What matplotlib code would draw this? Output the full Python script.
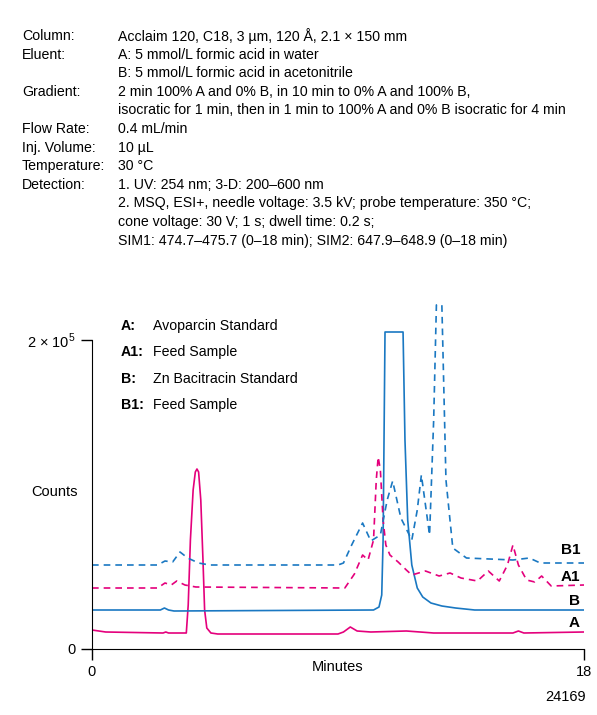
import matplotlib
matplotlib.use("Agg")
import matplotlib.pyplot as plt

plt.rcParams['font.family'] = ['Liberation Sans', 'DejaVu Sans']

# scale: counts per image pixel
K = 647.0
def c(py):
    return (649 - py) * K

# Trace data (time in min, signal in counts)
A_t = [0, 0.5, 2.6, 2.7, 2.8, 3.45, 3.52, 3.6, 3.7, 3.78, 3.84, 3.9, 3.98, 4.06, 4.12, 4.2, 4.35, 4.6, 9.0, 9.2, 9.45, 9.7, 10.2, 11.5, 12.5, 15.4, 15.6, 15.8, 18]
A_y = [c(p) for p in [630, 632, 633, 632, 633, 633, 605, 540, 490, 472, 469, 472, 500, 560, 610, 628, 633, 634, 634, 632, 627, 631, 632, 631, 633, 633, 631, 633, 632]]

B_t = [0, 2.5, 2.65, 2.8, 3.0, 10.3, 10.5, 10.6, 10.65, 10.72, 11.38, 11.45, 11.55, 11.7, 11.9, 12.1, 12.4, 12.8, 13.3, 14.0, 18]
B_y = [c(p) for p in [610, 610, 608, 610, 611, 610, 607, 595, 540, 332, 332, 440, 520, 565, 588, 597, 603, 606, 608, 610, 610]]

A1_t = [0, 2.4, 2.67, 2.9, 3.1, 3.4, 3.8, 9.25, 9.6, 9.9, 10.1, 10.3, 10.4, 10.47, 10.55, 10.65, 10.75, 10.9, 11.2, 11.5, 11.7, 12.2, 12.7, 13.1, 13.5, 14.1, 14.5, 14.9, 15.2, 15.4, 15.6, 15.9, 16.2, 16.45, 16.8, 18]
A1_y = [c(p) for p in [588, 588, 583, 585, 581, 585, 587, 588, 574, 555, 560, 540, 480, 457, 470, 520, 545, 555, 562, 570, 575, 571, 576, 573, 578, 581, 571, 581, 565, 545, 565, 580, 582, 576, 586, 585]]

B1_t = [0, 2.4, 2.67, 2.95, 3.22, 3.5, 3.9, 4.3, 9.0, 9.2, 9.5, 9.9, 10.2, 10.55, 10.8, 11.0, 11.3, 11.7, 11.9, 12.05, 12.35, 12.5, 12.6, 12.8, 12.95, 13.2, 13.7, 15.4, 16.0, 16.4, 18]
B1_y = [c(p) for p in [565, 565, 561, 562, 552, 558, 563, 565, 565, 563, 545, 523, 541, 535, 500, 481, 518, 540, 510, 475, 535, 420, 305, 305, 480, 548, 558, 560, 558, 563, 563]]

info_labels = ["Column:", "Eluent:", "", "Gradient:", "", "Flow Rate:", "Inj. Volume:", "Temperature:", "Detection:", "", "", ""]
info_values = ["Acclaim 120, C18, 3 µm, 120 Å, 2.1 × 150 mm",
               "A: 5 mmol/L formic acid in water",
               "B: 5 mmol/L formic acid in acetonitrile",
               "2 min 100% A and 0% B, in 10 min to 0% A and 100% B,",
               "isocratic for 1 min, then in 1 min to 100% A and 0% B isocratic for 4 min",
               "0.4 mL/min",
               "10 µL",
               "30 °C",
               "1. UV: 254 nm; 3-D: 200–600 nm",
               "2. MSQ, ESI+, needle voltage: 3.5 kV; probe temperature: 350 °C;",
               "cone voltage: 30 V; 1 s; dwell time: 0.2 s;",
               "SIM1: 474.7–475.7 (0–18 min); SIM2: 647.9–648.9 (0–18 min)"]
legend_keys = ["A:", "A1:", "B:", "B1:"]
legend_names = ["Avoparcin Standard", "Feed Sample", "Zn Bacitracin Standard", "Feed Sample"]

W, H = 597, 715
fig = plt.figure(figsize=(W/100, H/100), dpi=100)
def fx(px): return px / W
def fy(py): return 1 - py / H

ax = fig.add_axes([fx(92), fy(649), fx(584) - fx(92), (649 - 300) / H])
mag = '#e4007c'
blu = '#1a78c2'
ax.plot(A_t, A_y, color=mag, lw=1.2)
ax.plot(B_t, B_y, color=blu, lw=1.2)
ax.plot(A1_t, A1_y, color=mag, lw=1.2, ls=(0, (4, 3)))
ax.plot(B1_t, B1_y, color=blu, lw=1.2, ls=(0, (4, 3)))
ax.set_xlim(0, 18)
ax.set_ylim(0, c(300))
for s in ['top', 'right']:
    ax.spines[s].set_visible(False)
ax.spines['left'].set_bounds(0, 2e5)
ax.set_xticks([0, 18])
ax.set_xticklabels(['0', '18'], fontsize=10.5)
ax.set_yticks([0, 2e5])
ax.set_yticklabels(['0', '2 × 10$^{\\mathregular{5}}$'], fontsize=10.5)
ax.tick_params(axis='x', direction='out', length=8, width=1)
ax.tick_params(axis='y', direction='out', length=8, width=1)
ax.set_facecolor('none')

kw = dict(fontsize=10.2, va='center', transform=fig.transFigure)
for i, (l, v) in enumerate(zip(info_labels, info_values)):
    y = 36 + i * 18.6
    if l:
        fig.text(fx(22), fy(y), l, **kw)
    fig.text(fx(118), fy(y), v, **kw)

for i, (k, n) in enumerate(zip(legend_keys, legend_names)):
    y = 326 + i * 26.3
    fig.text(fx(121), fy(y), k, fontweight='bold', **kw)
    fig.text(fx(153), fy(y), n, **kw)

for lab, y in [("B1", 550), ("A1", 577), ("B", 601), ("A", 623)]:
    fig.text(fx(580), fy(y), lab, fontweight='bold', ha='right', fontsize=11, va='center')

fig.text(fx(55), fy(492), "Counts", ha='center', va='center', fontsize=10.5)
fig.text(fx(338), fy(667), "Minutes", ha='center', va='center', fontsize=10.5)
fig.text(fx(566), fy(697), "24169", ha='center', va='center', fontsize=10.5)

fig.savefig("out.png", dpi=100)
